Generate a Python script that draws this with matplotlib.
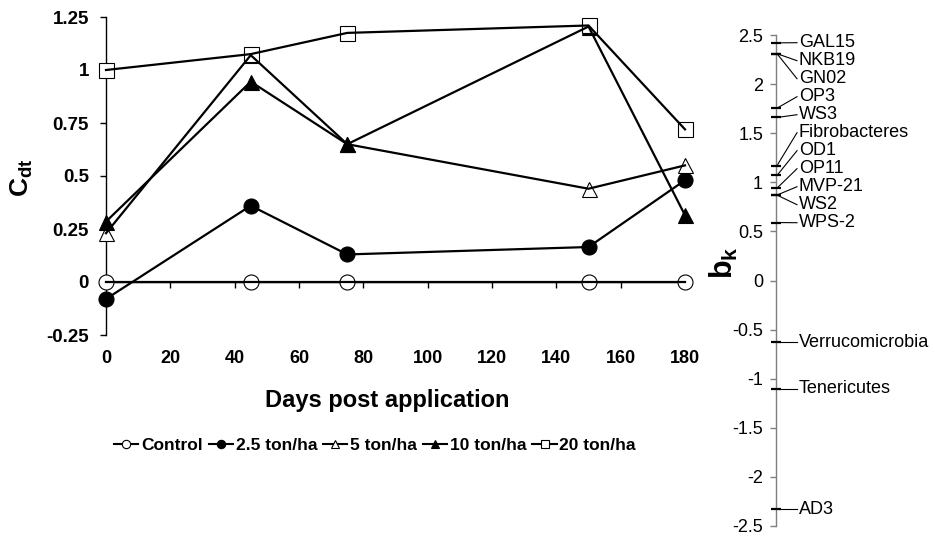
import matplotlib
matplotlib.use('Agg')
import matplotlib.pyplot as plt
from matplotlib.lines import Line2D

plt.rcParams['font.family'] = ['Liberation Sans', 'DejaVu Sans']
plt.rcParams['mathtext.fontset'] = 'custom'
plt.rcParams['mathtext.rm'] = 'Liberation Sans'
plt.rcParams['mathtext.bf'] = 'Liberation Sans:bold'
plt.rcParams['mathtext.it'] = 'Liberation Sans:italic'

# ---------------- data ----------------
days = [0, 45, 75, 150, 180]
series_names = ['Control', '2.5 ton/ha', '5 ton/ha', '10 ton/ha', '20 ton/ha']
control = [0, 0, 0, 0, 0]
t2_5 = [-0.08, 0.36, 0.13, 0.165, 0.48]
t5 = [0.23, 1.07, 0.65, 0.44, 0.55]
t10 = [0.285, 0.945, 0.65, 1.205, 0.315]
t20 = [1.0, 1.075, 1.175, 1.21, 0.72]

x_ticks = [0, 20, 40, 60, 80, 100, 120, 140, 160, 180]
x_tick_labels = ['0', '20', '40', '60', '80', '100', '120', '140', '160', '180']
y_ticks = [-0.25, 0, 0.25, 0.5, 0.75, 1, 1.25]
y_tick_labels = ['-0.25', '0', '0.25', '0.5', '0.75', '1', '1.25']

phyla = ['GAL15', 'NKB19', 'GN02', 'OP3', 'WS3', 'Fibrobacteres', 'OD1', 'OP11',
         'MVP-21', 'WS2', 'WPS-2', 'Verrucomicrobia', 'Tenericutes', 'AD3']
bk = [2.42, 2.31, 2.31, 1.755, 1.66, 1.17, 1.07, 0.94, 0.87, 0.87, 0.59,
      -0.63, -1.10, -2.33]
bk_ticks = [-2.5, -2, -1.5, -1, -0.5, 0, 0.5, 1, 1.5, 2, 2.5]
bk_tick_labels = ['-2.5', '-2', '-1.5', '-1', '-0.5', '0', '0.5', '1', '1.5', '2', '2.5']

# ---------------- figure ----------------
W, H = 935, 536
fig = plt.figure(figsize=(W / 100, H / 100), dpi=100)
fig.patch.set_facecolor('white')

ax = fig.add_axes([106 / W, (H - 335) / H, 579 / W, 318 / H])
ax.set_xlim(0, 180)
ax.set_ylim(-0.25, 1.25)
for s in ['top', 'right']:
    ax.spines[s].set_visible(False)
ax.spines['bottom'].set_position(('data', 0))
ax.spines['bottom'].set_linewidth(1.0)
ax.spines['left'].set_linewidth(1.0)
ax.set_xticks(x_ticks)
ax.tick_params(axis='x', direction='out', length=4, width=1, labelbottom=False)
ax.set_yticks(y_ticks)
ax.set_yticklabels(y_tick_labels, fontsize=13.5, fontweight='bold')
ax.tick_params(axis='y', direction='out', length=4.3, width=1, pad=8)

sec = ax.secondary_xaxis(0)
sec.set_xticks(x_ticks)
sec.set_xticklabels(x_tick_labels, fontsize=13, fontweight='bold')
sec.tick_params(length=0, pad=11)
sec.spines['bottom'].set_visible(False)

styles = [
    dict(marker='o', mfc='white'),
    dict(marker='o', mfc='black'),
    dict(marker='^', mfc='white'),
    dict(marker='^', mfc='black'),
    dict(marker='s', mfc='white'),
]
all_series = [control, t2_5, t5, t10, t20]
for vals, st in zip(all_series, styles):
    ax.plot(days, vals, ls='none', marker=st['marker'], ms=10.8, mfc=st['mfc'],
            mec='black', mew=0.8, zorder=3, clip_on=False)
for vals in all_series:
    ax.plot(days, vals, color='black', lw=1.6, zorder=4, clip_on=False,
            solid_joinstyle='miter')

fig.text((106 + 0.485 * 579) / W, (H - 400) / H, 'Days post application',
         ha='center', va='center', fontsize=17, fontweight='bold')
fig.text(22 / W, (H - 178) / H, r'$\mathbf{C_{dt}}$', ha='center', va='center',
         rotation=90, fontsize=19)

handles = [Line2D([], [], color='black', lw=1.5, marker=st['marker'], ms=6,
                  mfc=st['mfc'], mec='black', mew=0.8) for st in styles]
fig.legend(handles, series_names, loc='center left',
           bbox_to_anchor=(114 / W, (H - 445) / H), bbox_transform=fig.transFigure,
           ncol=5, frameon=False, handlelength=1.4, handletextpad=0.15,
           columnspacing=0.35, borderpad=0, borderaxespad=0,
           prop=dict(size=12.5, weight='bold'))

# ---------------- right axis (b_k) ----------------
ax2 = fig.add_axes([776 / W, (H - 526) / H, 159 / W, 491 / H])
ax2.set_ylim(-2.5, 2.5)
ax2.set_xlim(0, 159)
for s in ['top', 'right', 'bottom']:
    ax2.spines[s].set_visible(False)
ax2.spines['left'].set_color('#7f7f7f')
ax2.spines['left'].set_linewidth(1.0)
ax2.set_xticks([])
ax2.set_yticks(bk_ticks)
ax2.set_yticklabels(bk_tick_labels, fontsize=13)
ax2.tick_params(axis='y', direction='out', length=4.3, width=1, color='#7f7f7f', pad=5)
ax2.patch.set_alpha(0)

# label layout: clusters of close labels are spread evenly between their extremes
px_per_unit = 491 / 5.0
spacing = 18 / px_per_unit
cluster_gap = 1.0
order = sorted(range(len(bk)), key=lambda i: -bk[i])
clusters = [[order[0]]]
for i in order[1:]:
    if bk[clusters[-1][-1]] - bk[i] < cluster_gap:
        clusters[-1].append(i)
    else:
        clusters.append([i])
label_y = {}
for cl in clusters:
    top, bot = bk[cl[0]], bk[cl[-1]]
    n = len(cl)
    if n == 1:
        label_y[cl[0]] = top
        continue
    step = (top - bot) / (n - 1)
    if step < spacing:
        mid = (top + bot) / 2
        top = mid + spacing * (n - 1) / 2
        step = spacing
    for k, i in enumerate(cl):
        label_y[i] = top - k * step

ax2.plot([0] * len(bk), bk, ls='none', marker='_', ms=7, mew=1.6, color='black',
         clip_on=False, zorder=5)
for i, name in enumerate(phyla):
    ly = label_y[i]
    ax2.plot([1, 21], [bk[i], ly], color='black', lw=0.8, clip_on=False)
    ax2.text(23, ly, name, ha='left', va='center', fontsize=13)

fig.text(724 / W, (H - 263) / H, r'$\mathbf{b_{k}}$', ha='center', va='center',
         rotation=90, fontsize=22)

fig.savefig('out.png', dpi=100)
